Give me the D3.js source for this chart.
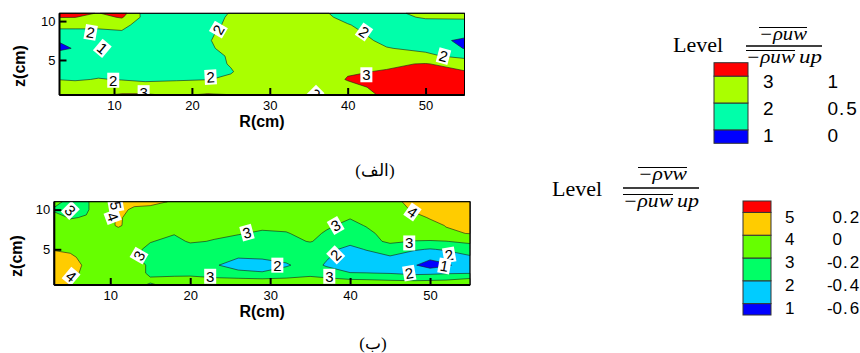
<!DOCTYPE html>
<html>
<head>
<meta charset="utf-8">
<script src="https://cdn.jsdelivr.net/npm/d3@7"></script>
<style>
  body { margin: 0; background: #fff; }
  svg { display: block; }
  text { font-family: "Liberation Sans", Arial, sans-serif; }
  .serif { font-family: "Liberation Serif", "Times New Roman", serif; }
</style>
</head>
<body>
<svg id="chart" width="860" height="353"></svg>
<script>
// ---- panel (a): -rho uw / -rho uw up ----
const rA = [3, 5, 8, 11, 14, 18, 22, 25, 28, 32, 36, 40, 45, 50, 55];
const zA = [11, 10.5, 9.5, 8.5, 7.5, 6.5, 5.5, 4.5, 3.5, 2.5, 1.5, 0.5];
const uwRatio = [
  [1.1, 1.1, 0.98, 1.2, 0.3, 0.3, 0.35, 0.52, 0.7, 0.7, 0.6, 0.35, 0.4, 0.6, 0.65],
  [1.02, 1.01, 0.85, 1.05, 0.35, 0.3, 0.35, 0.55, 0.7, 0.7, 0.62, 0.4, 0.35, 0.55, 0.55],
  [0.6, 0.6, 0.6, 0.62, 0.3, 0.3, 0.35, 0.6, 0.7, 0.7, 0.65, 0.52, 0.3, 0.3, 0.35],
  [0.4, 0.4, 0.4, 0.45, 0.3, 0.25, 0.45, 0.6, 0.7, 0.75, 0.7, 0.6, 0.35, 0.25, 0.2],
  [0.05, 0.25, 0.3, 0.2, 0.3, 0.3, 0.48, 0.6, 0.75, 0.8, 0.75, 0.7, 0.4, 0.2, -0.1],
  [-0.15, 0.05, 0.3, 0.3, 0.3, 0.3, 0.45, 0.6, 0.75, 0.8, 0.8, 0.7, 0.52, 0.4, -0.02],
  [0.35, 0.3, 0.3, 0.25, 0.3, 0.3, 0.35, 0.55, 0.75, 0.8, 0.8, 0.75, 0.7, 0.6, 0.35],
  [0.35, 0.35, 0.35, 0.35, 0.35, 0.35, 0.4, 0.52, 0.7, 0.8, 0.85, 0.9, 0.95, 1.02, 0.85],
  [0.4, 0.4, 0.4, 0.4, 0.4, 0.4, 0.42, 0.48, 0.65, 0.75, 0.85, 0.97, 1.02, 1.2, 1.02],
  [0.49, 0.46, 0.52, 0.48, 0.4, 0.45, 0.49, 0.55, 0.65, 0.7, 0.8, 1.02, 1.15, 1.2, 1.15],
  [0.7, 0.7, 0.75, 0.75, 0.75, 0.75, 0.75, 0.75, 0.7, 0.7, 0.75, 0.9, 1.1, 1.2, 1.2],
  [0.8, 0.85, 0.95, 1.05, 1.05, 0.95, 1.05, 1.01, 0.85, 0.8, 0.8, 0.85, 1.05, 1.2, 1.2]
];
const uwLevels = [0, 0.5, 1];
const uwColours = ["#0000ff", "#00ffaa", "#aaff00", "#ff0000"];
// [R, z, text, angle]
const uwLabels = [
  [7.0, 8.55, "2", 10], [8.5, 6.5, "1", 40], [23.4, 8.9, "2", -60],
  [9.9, 2.4, "2", 0], [22.4, 2.8, "2", -3], [13.8, 0.8, "3", 0],
  [35.8, 0.6, "2", 45], [42.1, 8.6, "2", 35], [42.4, 3.1, "3", 0],
  [52.3, 5.5, "2", 15]
];

// ---- panel (b): -rho vw / -rho uw up ----
const rB = [3, 5, 7, 9, 11, 13, 15, 18, 20, 23, 26, 29, 32, 35, 37, 40, 42, 45, 48, 50, 52, 55];
const zB = [11, 10, 9, 8, 7, 6, 5, 4, 3, 2, 1, 0.5];
const vwRatio = [
  [-0.15, -0.25, -0.22, -0.1, 0.15, 0.05, 0.05, -0.02, -0.1, -0.1, -0.1, -0.1, -0.1, -0.1, -0.1, -0.1, -0.1, -0.05, 0.05, 0.1, 0.12, 0.15],
  [-0.22, -0.23, -0.22, -0.1, 0.05, -0.03, -0.05, -0.1, -0.12, -0.12, -0.12, -0.12, -0.12, -0.12, -0.12, -0.14, -0.12, -0.08, 0.02, 0.06, 0.08, 0.12],
  [-0.15, -0.21, -0.19, -0.12, 0.03, -0.08, -0.12, -0.12, -0.12, -0.12, -0.13, -0.13, -0.13, -0.13, -0.15, -0.19, -0.15, -0.1, -0.04, 0.01, 0.05, 0.08],
  [-0.12, -0.15, -0.15, -0.12, 0.03, -0.1, -0.12, -0.15, -0.15, -0.15, -0.15, -0.17, -0.16, -0.15, -0.17, -0.25, -0.19, -0.1, -0.05, -0.04, 0.005, 0.05],
  [-0.1, -0.12, -0.12, -0.12, -0.1, -0.12, -0.15, -0.19, -0.17, -0.17, -0.19, -0.22, -0.21, -0.15, -0.22, -0.3, -0.25, -0.12, -0.06, -0.04, -0.02, 0.005],
  [-0.1, -0.1, -0.1, -0.1, -0.12, -0.15, -0.19, -0.25, -0.18, -0.21, -0.25, -0.28, -0.25, -0.19, -0.25, -0.35, -0.3, -0.15, -0.21, -0.22, -0.205, -0.15],
  [-0.01, -0.03, -0.08, -0.1, -0.12, -0.15, -0.25, -0.28, -0.28, -0.3, -0.3, -0.3, -0.3, -0.3, -0.35, -0.45, -0.39, -0.35, -0.38, -0.41, -0.38, -0.33],
  [0.05, 0.03, -0.05, -0.1, -0.12, -0.18, -0.25, -0.28, -0.3, -0.35, -0.39, -0.37, -0.35, -0.3, -0.38, -0.5, -0.48, -0.41, -0.5, -0.55, -0.5, -0.42],
  [0.06, 0.05, -0.02, -0.1, -0.12, -0.15, -0.22, -0.28, -0.3, -0.38, -0.48, -0.5, -0.42, -0.32, -0.42, -0.55, -0.55, -0.55, -0.58, -0.7, -0.63, -0.5],
  [0.08, 0.06, -0.05, -0.1, -0.12, -0.15, -0.22, -0.22, -0.23, -0.28, -0.35, -0.38, -0.32, -0.25, -0.3, -0.39, -0.395, -0.41, -0.45, -0.44, -0.42, -0.41],
  [0.1, 0.01, -0.05, -0.1, -0.12, -0.15, -0.18, -0.17, -0.15, -0.14, -0.12, -0.13, -0.13, -0.13, -0.13, -0.15, -0.16, -0.18, -0.19, -0.18, -0.17, -0.1],
  [0.12, -0.01, -0.05, -0.1, -0.12, -0.15, -0.22, -0.15, -0.1, -0.1, -0.1, -0.1, -0.1, -0.1, -0.1, -0.1, -0.1, -0.1, -0.1, -0.1, -0.1, -0.08]
];
const vwLevels = [-0.6, -0.4, -0.2, 0, 0.2];
const vwColours = ["#0000ff", "#00ccff", "#00ff66", "#66ff00", "#ffcc00", "#ff0000"];
const vwLabels = [
  [5.0, 9.9, "3", 45], [10.7, 10.5, "5", 80], [10.3, 9.1, "4", 70],
  [13.6, 4.2, "3", -60], [5.1, 1.6, "4", 40], [27.1, 7.1, "3", -15],
  [38.2, 8.0, "3", -30], [47.8, 9.7, "4", 35], [47.4, 5.8, "3", 0],
  [30.9, 3.0, "2", 0], [38.2, 4.3, "2", -45], [52.4, 4.3, "2", -10],
  [51.8, 2.9, "1", 10], [47.4, 2.0, "2", -10], [22.5, 1.6, "3", 0],
  [37.4, 1.6, "3", 0]
];

const rTicks = [10, 20, 30, 40, 50];
const rMinor = d3.range(4, 55, 2);
const zTicks = [5, 10];
const zMinor = d3.range(1, 11, 1);

const svg = d3.select("#chart");

function drawPanel(p) {
  const x = d3.scaleLinear().domain([3, 55]).range([p.left, p.right]);
  const y = d3.scaleLinear().domain([0.5, 11]).range([p.bottom, p.top]);
  // grid index -> data coordinate (sample i sits at i + 0.5 in d3.contours)
  const gx = d3.scaleLinear().domain(p.rs.map((_, i) => i + 0.5)).range(p.rs).clamp(true);
  const gy = d3.scaleLinear().domain(p.zs.map((_, j) => j + 0.5)).range(p.zs).clamp(true);
  const proj = d3.geoTransform({
    point(px, py) { this.stream.point(x(gx(px)), y(gy(py))); }
  });
  const path = d3.geoPath(proj);

  const contours = d3.contours()
    .size([p.rs.length, p.zs.length])
    .thresholds(p.levels)(p.values.flat());

  const g = svg.append("g");
  const clipId = "clip-" + p.id;
  svg.append("clipPath").attr("id", clipId)
    .append("rect")
    .attr("x", p.left).attr("y", p.top)
    .attr("width", p.right - p.left).attr("height", p.bottom - p.top);

  g.append("rect")
    .attr("x", p.left).attr("y", p.top)
    .attr("width", p.right - p.left).attr("height", p.bottom - p.top)
    .attr("fill", p.colours[0]);

  g.selectAll("path.band")
    .data(contours)
    .join("path")
    .attr("class", "band")
    .attr("d", path)
    .attr("fill", (d, i) => p.colours[i + 1])
    .attr("stroke", "#1a1a1a")
    .attr("stroke-width", 0.6)
    .attr("stroke-linejoin", "round");

  // contour labels
  const lab = g.append("g").attr("clip-path", `url(#${clipId})`)
    .selectAll("g")
    .data(p.labels)
    .join("g")
    .attr("transform", d => `translate(${x(d[0])},${y(d[1])}) rotate(${d[3]})`);
  lab.append("rect")
    .attr("x", -6).attr("y", -7.5).attr("width", 12).attr("height", 15)
    .attr("fill", "#fff");
  lab.append("text")
    .attr("text-anchor", "middle")
    .attr("dy", "0.36em")
    .attr("font-size", 15)
    .text(d => d[2]);

  // frame
  g.append("rect")
    .attr("x", p.left).attr("y", p.top)
    .attr("width", p.right - p.left).attr("height", p.bottom - p.top)
    .attr("fill", "none").attr("stroke", "#000").attr("stroke-width", 1);

  // axes: ticks point inward
  const xAxis = g.append("g").attr("transform", `translate(0,${p.bottom})`);
  xAxis.call(d3.axisBottom(x).tickValues(rMinor).tickSize(-3).tickFormat(""));
  xAxis.call(d3.axisBottom(x).tickValues(rTicks).tickSize(-7).tickPadding(6));
  xAxis.selectAll(".domain").remove();
  xAxis.selectAll("line").attr("stroke-width", (d) => rTicks.includes(d) ? 2 : 1);
  xAxis.selectAll("text").attr("font-size", 13).attr("fill", "#000")
    .style("font-family", '"Liberation Sans", Arial, sans-serif');

  const yAxis = g.append("g").attr("transform", `translate(${p.left},0)`);
  yAxis.call(d3.axisLeft(y).tickValues(zMinor).tickSize(-3).tickFormat(""));
  yAxis.call(d3.axisLeft(y).tickValues(zTicks).tickSize(-7).tickPadding(4));
  yAxis.selectAll(".domain").remove();
  yAxis.selectAll("line").attr("stroke-width", (d) => zTicks.includes(d) ? 2 : 1);
  yAxis.selectAll("text").attr("font-size", 13).attr("fill", "#000")
    .style("font-family", '"Liberation Sans", Arial, sans-serif');

  g.append("line")
    .attr("x1", p.left).attr("x2", p.right)
    .attr("y1", p.bottom).attr("y2", p.bottom)
    .attr("stroke", "#000").attr("stroke-width", 2);
  g.append("line")
    .attr("x1", p.left).attr("x2", p.left)
    .attr("y1", p.top).attr("y2", p.bottom)
    .attr("stroke", "#000").attr("stroke-width", 2);

  g.append("text")
    .attr("x", (p.left + p.right) / 2).attr("y", p.bottom + 32)
    .attr("text-anchor", "middle").attr("font-size", 16).attr("font-weight", "bold")
    .text("R(cm)");
  g.append("text")
    .attr("transform", `translate(${p.zLabelX},${p.zLabelY}) rotate(-90)`)
    .attr("text-anchor", "middle").attr("font-size", 16).attr("font-weight", "bold")
    .text("z(cm)");

  svg.append("text")
    .attr("class", "serif")
    .attr("x", p.captionX).attr("y", p.captionY)
    .attr("text-anchor", "middle").attr("font-size", 17)
    .text(p.caption);
}

function overlined(parent, xPos, yPos, str, width, lineY) {
  parent.append("text")
    .attr("class", "serif")
    .attr("x", xPos).attr("y", yPos)
    .attr("font-size", 18).attr("font-style", "italic")
    .attr("textLength", width).attr("lengthAdjust", "spacingAndGlyphs")
    .text(str);
  parent.append("line")
    .attr("x1", xPos).attr("x2", xPos + width)
    .attr("y1", lineY).attr("y2", lineY)
    .attr("stroke", "#000").attr("stroke-width", 1);
}

function drawLegend(L) {
  const g = svg.append("g");
  g.append("text").attr("class", "serif")
    .attr("x", L.levelX).attr("y", L.levelY)
    .attr("font-size", 22).text("Level");

  overlined(g, L.numX, L.numY, L.numerator, L.numW, L.numY - 12.5);
  g.append("line")
    .attr("x1", L.barX1).attr("x2", L.barX2)
    .attr("y1", L.barY).attr("y2", L.barY)
    .attr("stroke", "#000").attr("stroke-width", 1.5);
  overlined(g, L.barX1, L.denY, "\u2212\u03c1uw", L.denW, L.denY - 12.5);
  g.append("text").attr("class", "serif")
    .attr("x", L.upX).attr("y", L.denY)
    .attr("font-size", 18).attr("font-style", "italic")
    .attr("textLength", L.barX2 - L.upX).attr("lengthAdjust", "spacingAndGlyphs")
    .text("up");

  const n = L.levels.length;
  const ly = d3.scaleLinear().domain([0.5, n + 0.5]).range([L.boxBottom, L.boxTop]);
  const bands = d3.range(n + 1).map(i => ({
    lo: i === 0 ? 0.5 : i, hi: i === n ? n + 0.5 : i + 1, c: L.colours[i]
  }));
  g.selectAll("rect.box")
    .data(bands)
    .join("rect")
    .attr("class", "box")
    .attr("x", L.boxX).attr("width", L.boxW)
    .attr("y", d => ly(d.hi)).attr("height", d => ly(d.lo) - ly(d.hi))
    .attr("fill", d => d.c)
    .attr("stroke", "#333").attr("stroke-width", 1);

  g.selectAll("text.num")
    .data(L.levels)
    .join("text")
    .attr("class", "num")
    .attr("x", L.numColX).attr("y", (d, i) => ly(i + 1) + L.textDy)
    .attr("dy", "0.36em")
    .attr("font-size", L.fontSize)
    .text((d, i) => String(i + 1));

  // values aligned on the decimal point
  const parts = L.levels.map(v => {
    const s = String(v);
    const k = s.indexOf(".");
    return k < 0 ? [s, ""] : [s.slice(0, k), s.slice(k)];
  });
  g.selectAll("text.vint")
    .data(parts)
    .join("text")
    .attr("class", "vint")
    .attr("x", L.pointX).attr("y", (d, i) => ly(i + 1) + L.textDy)
    .attr("dy", "0.36em").attr("text-anchor", "end")
    .attr("font-size", L.fontSize)
    .text(d => d[0]);
  g.selectAll("text.vfrac")
    .data(parts)
    .join("text")
    .attr("class", "vfrac")
    .attr("x", L.pointX + 1).attr("y", (d, i) => ly(i + 1) + L.textDy)
    .attr("dy", "0.36em")
    .attr("font-size", L.fontSize).attr("letter-spacing", 2)
    .text(d => d[1]);
}

drawPanel({
  id: "a", rs: rA, zs: zA, values: uwRatio, levels: uwLevels, colours: uwColours,
  labels: uwLabels, left: 59.5, right: 464.5, top: 13.3, bottom: 95,
  zLabelX: 25, zLabelY: 66, caption: "(الف)", captionX: 375, captionY: 176
});
drawPanel({
  id: "b", rs: rB, zs: zB, values: vwRatio, levels: vwLevels, colours: vwColours,
  labels: vwLabels, left: 54.3, right: 470, top: 201.7, bottom: 285,
  zLabelX: 22, zLabelY: 256, caption: "(ب)", captionX: 373, captionY: 349
});

drawLegend({
  levelX: 673, levelY: 52, numerator: "\u2212\u03c1uw", numX: 759, numY: 40, numW: 48,
  barX1: 746, barX2: 822, barY: 46, denY: 63, denW: 49, upX: 799,
  levels: uwLevels, colours: uwColours,
  boxX: 714, boxW: 34, boxTop: 62.7, boxBottom: 143.3,
  numColX: 763, pointX: 838, textDy: 5, fontSize: 19
});
drawLegend({
  levelX: 552, levelY: 196, numerator: "\u2212\u03c1vw", numX: 638, numY: 180, numW: 49,
  barX1: 623, barX2: 699, barY: 188, denY: 207, denW: 50, upX: 677,
  levels: vwLevels, colours: vwColours,
  boxX: 743, boxW: 28, boxTop: 201, boxBottom: 315,
  numColX: 785, pointX: 842, textDy: 4, fontSize: 17
});
</script>
</body>
</html>
